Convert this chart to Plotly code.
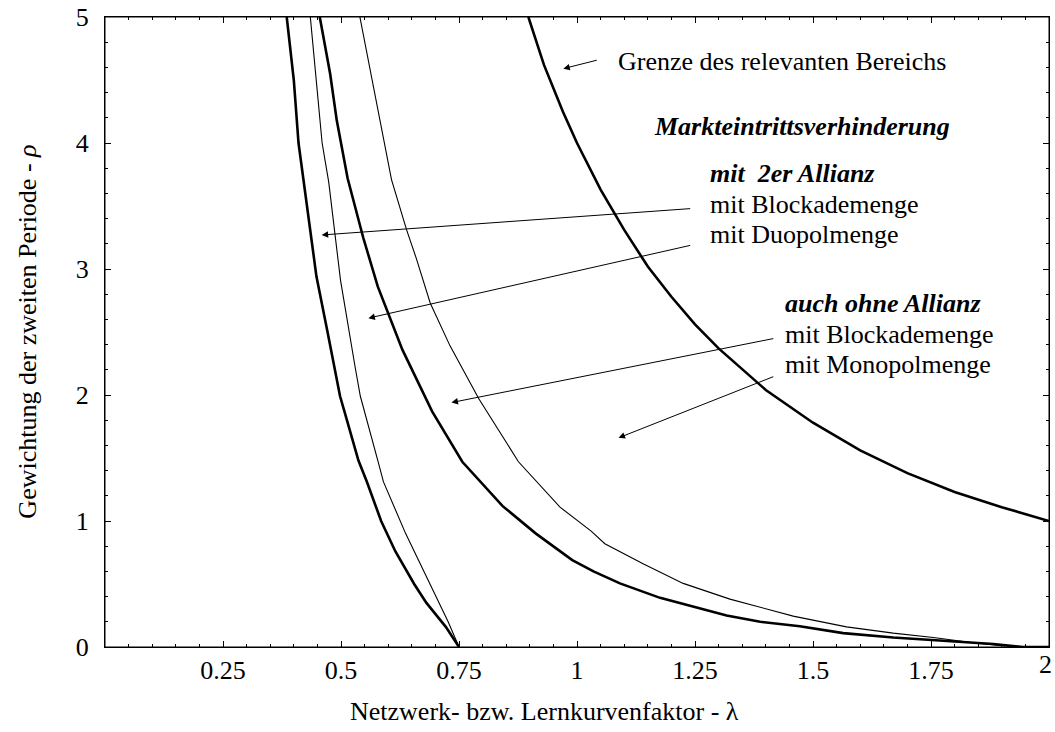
import plotly.graph_objects as go

# Curve data (lambda -> rho)
lam_A = [0.385, 0.40, 0.41, 0.42, 0.438, 0.448, 0.472, 0.498, 0.508, 0.537, 0.555, 0.585, 0.615, 0.655, 0.681, 0.722, 0.75]
rho_A = [5.0, 4.5, 4.0, 3.71, 3.23, 2.94, 2.49, 1.99, 1.86, 1.48, 1.31, 1.0, 0.76, 0.5, 0.35, 0.16, 0.0]

lam_B = [0.435, 0.447, 0.46, 0.474, 0.499, 0.530, 0.541, 0.578, 0.590, 0.637, 0.694, 0.727, 0.75]
rho_B = [5.0, 4.5, 4.0, 3.69, 2.91, 2.22, 1.99, 1.48, 1.31, 0.90, 0.46, 0.2, 0.0]

lam_C = [0.455, 0.477, 0.491, 0.514, 0.547, 0.578, 0.630, 0.693, 0.757, 0.842, 0.913, 0.964, 0.99, 1.035,
         1.091, 1.176, 1.246, 1.317, 1.388, 1.472, 1.564, 1.67, 1.776, 1.882, 1.945, 2.0]
rho_C = [5.0, 4.55, 4.18, 3.72, 3.25, 2.86, 2.36, 1.87, 1.47, 1.12, 0.90, 0.76, 0.69, 0.60,
         0.505, 0.39, 0.32, 0.25, 0.20, 0.165, 0.11, 0.075, 0.05, 0.024, 0.0, 0.0]

lam_D = [0.54, 0.586, 0.607, 0.639, 0.659, 0.689, 0.731, 0.792, 0.876, 0.964, 1.03, 1.059, 1.14,
         1.225, 1.324, 1.458, 1.571, 1.67, 1.755, 1.847, 1.9, 1.95, 2.0]
rho_D = [5.0, 4.1, 3.71, 3.31, 3.09, 2.73, 2.39, 1.97, 1.47, 1.11, 0.92, 0.82, 0.66,
         0.505, 0.38, 0.245, 0.16, 0.11, 0.075, 0.03, 0.01, 0.0, 0.0]

lam_G = [0.897, 0.93, 0.97, 1.0, 1.05, 1.1, 1.15, 1.2, 1.25, 1.3, 1.4, 1.5, 1.6, 1.7, 1.8, 1.9, 2.0]
rho_G = [5.0, 4.62, 4.25, 4.0, 3.63, 3.31, 3.02, 2.78, 2.56, 2.37, 2.04, 1.78, 1.56, 1.38, 1.23, 1.11, 1.0]

x_tickvals = [0.25, 0.5, 0.75, 1.0, 1.25, 1.5, 1.75, 2.0]
x_ticktext = ["0.25", "0.5", "0.75", "1", "1.25", "1.5", "1.75", ""]
x_last_label = "2"
y_tickvals = [0, 1, 2, 3, 4, 5]
y_ticktext = ["0", "1", "2", "3", "4", "5"]

x_title = "Netzwerk- bzw. Lernkurvenfaktor - λ"
y_title = "Gewichtung der zweiten Periode - <i>ρ</i>"

# Text labels: (text, lambda, rho)
label_texts = ["Grenze des relevanten Bereichs", "<b><i>Markteintrittsverhinderung</i></b>",
               "<b><i>mit\u00a0 2er Allianz</i></b>", "mit Blockademenge", "mit Duopolmenge",
               "<b><i>auch ohne Allianz</i></b>", "mit Blockademenge", "mit Monopolmenge"]
label_lam = [1.084, 1.161, 1.28, 1.28, 1.28, 1.438, 1.438, 1.438]
label_rho = [4.65, 4.13, 3.76, 3.51, 3.27, 2.73, 2.48, 2.24]

# Arrows: tail (lambda, rho) -> head (lambda, rho)
arrow_tail_lam = [1.045, 1.243, 1.243, 1.419, 1.419]
arrow_tail_rho = [4.66, 3.48, 3.19, 2.45, 2.15]
arrow_head_lam = [0.971, 0.459, 0.558, 0.734, 1.088]
arrow_head_rho = [4.59, 3.27, 2.61, 1.94, 1.66]

FONT = "Liberation Serif, Times New Roman, serif"
FS = 26

fig = go.Figure()
for lx, ry, w in [(lam_A, rho_A, 2.6), (lam_B, rho_B, 1.1), (lam_C, rho_C, 2.6),
                  (lam_D, rho_D, 1.1), (lam_G, rho_G, 2.6)]:
    fig.add_trace(go.Scatter(x=lx, y=ry, mode="lines", line=dict(color="black", width=w),
                             showlegend=False, hoverinfo="skip"))

annotations = []
for t, lx, ry in zip(label_texts, label_lam, label_rho):
    annotations.append(dict(x=lx, y=ry, xref="x", yref="y", text=t, showarrow=False,
                            xanchor="left", yanchor="middle", borderpad=0,
                            font=dict(family=FONT, size=FS, color="black")))
for tl, tr, hl, hr in zip(arrow_tail_lam, arrow_tail_rho, arrow_head_lam, arrow_head_rho):
    annotations.append(dict(x=hl, y=hr, ax=tl, ay=tr, xref="x", yref="y", axref="x", ayref="y",
                            text="", showarrow=True, arrowhead=2, arrowsize=1.3, arrowwidth=1,
                            arrowcolor="black", standoff=0, startstandoff=0))
# last x tick label, kept inside the page edge
annotations.append(dict(x=x_tickvals[-1], y=0, xref="x", yref="paper", text=x_last_label,
                        showarrow=False, xanchor="right", yanchor="top", xshift=4, yshift=-2,
                        borderpad=0, font=dict(family=FONT, size=FS, color="black")))
# axis titles
annotations.append(dict(x=0.466, y=-0.1016, xref="paper", yref="paper", text=x_title,
                        showarrow=False, xanchor="center", yanchor="middle",
                        font=dict(family=FONT, size=FS, color="black")))
annotations.append(dict(x=-0.083, y=0.5, xref="paper", yref="paper", text=y_title,
                        showarrow=False, xanchor="center", yanchor="middle", textangle=-90,
                        font=dict(family=FONT, size=FS, color="black")))

axis_common = dict(showline=True, linecolor="black", linewidth=1, mirror="allticks",
                   ticks="inside", ticklen=6, tickwidth=1, tickcolor="black",
                   showgrid=False, zeroline=False, automargin=False,
                   tickfont=dict(family=FONT, size=FS, color="black"))

fig.update_layout(
    width=1055, height=732,
    paper_bgcolor="white", plot_bgcolor="white",
    margin=dict(l=105, r=6, t=17, b=85, autoexpand=False),
    font=dict(family=FONT, size=FS, color="black"),
    xaxis=dict(range=[0, 2], tickvals=x_tickvals, ticktext=x_ticktext, ticklabelstandoff=0,
               minor=dict(ticks="inside", ticklen=3, dtick=0.05, tick0=0, tickcolor="black"),
               **axis_common),
    yaxis=dict(range=[0, 5], tickvals=y_tickvals, ticktext=y_ticktext, ticklabelstandoff=10,
               minor=dict(ticks="inside", ticklen=3, dtick=0.2, tick0=0, tickcolor="black"),
               **axis_common),
    annotations=annotations,
    shapes=[dict(type="rect", xref="paper", yref="paper", x0=0, y0=0, x1=1, y1=1,
                 line=dict(color="black", width=1), fillcolor="rgba(0,0,0,0)", layer="above")],
)

# remove the default page margin so the figure sits at the window's top-left corner
fig.write_html("out.html", config={"displayModeBar": False},
               post_script="document.body.style.margin='0px';document.body.style.padding='0px';")
